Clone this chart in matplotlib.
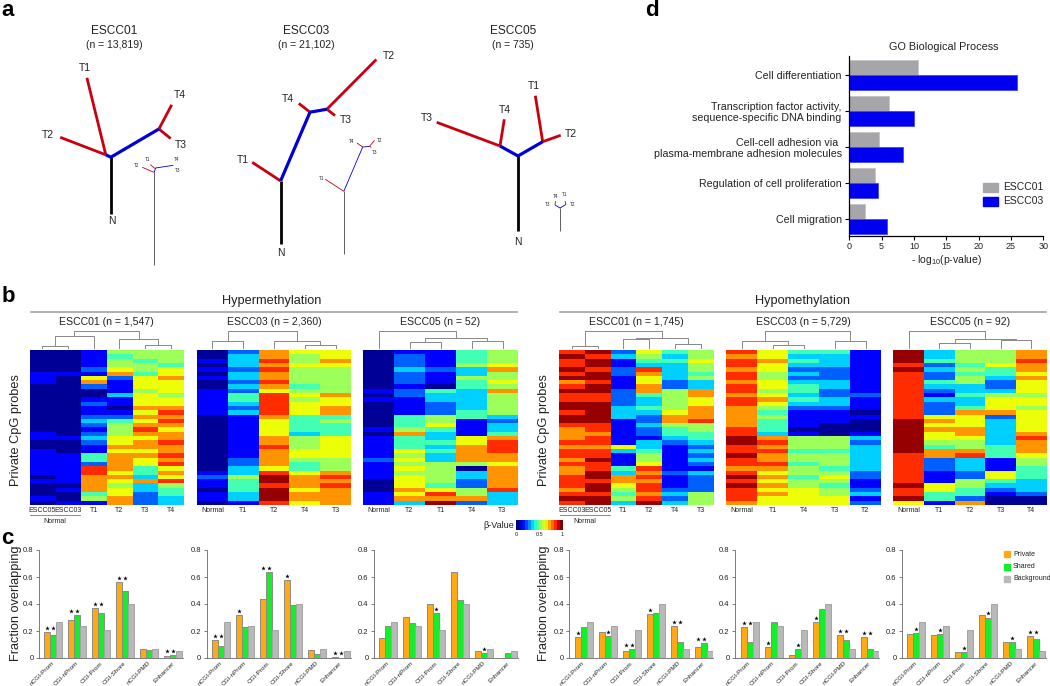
import matplotlib
matplotlib.use('Agg')
import matplotlib.pyplot as plt
import numpy as np

plt.rcParams['font.family'] = ['Liberation Sans', 'DejaVu Sans']
plt.rcParams['mathtext.default'] = 'regular'

RED = '#c8000f'
BLUE = '#0000d2'
TEXT = '#222222'

# panel a: trees, (colour, width, points) in picture coordinates
tree_01 = [('k', 2.0, [(110.9, 213.7), (110.9, 157.2)]),
           (RED, 2.0, [(105.8, 154.8), (86.9, 77.8)]),
           (RED, 2.0, [(105.8, 154.8), (60.2, 137.3)]),
           (RED, 2.0, [(158.9, 129), (171.7, 104.8)]),
           (RED, 2.0, [(158.9, 129), (170.7, 138.6)]),
           (BLUE, 2.3, [(105.8, 154.8), (110.9, 157.2), (158.9, 129)])]
tree_03 = [('k', 2.0, [(280.6, 244), (280.6, 180.9)]),
           (RED, 2.0, [(280.6, 180.9), (252.2, 162.3)]),
           (RED, 2.0, [(310, 112.2), (298.8, 103.4)]),
           (RED, 2.0, [(326.9, 109.2), (335, 115.6)]),
           (RED, 2.0, [(326.9, 109.2), (376.3, 59.5)]),
           (BLUE, 2.3, [(280.6, 180.9), (310, 112.2), (326.9, 109.2)])]
tree_05 = [('k', 2.0, [(518, 230.7), (518, 156)]),
           (RED, 2.0, [(500, 146), (436.7, 122.3)]),
           (RED, 2.0, [(500, 146), (504.3, 119.3)]),
           (RED, 2.0, [(542.7, 141.7), (535.3, 95.7)]),
           (RED, 2.0, [(542.7, 141.7), (560.7, 135.3)]),
           (BLUE, 2.3, [(500, 146), (518, 156), (542.7, 141.7)])]
inset_01 = [('#444444', 0.6, [(154.2, 264.7), (154.2, 172.4)]),
            (RED, 0.6, [(154.2, 172.4), (142.3, 167.3)]),
            (RED, 0.6, [(154.8, 168.4), (150.4, 164.6)]),
            (BLUE, 0.6, [(154.2, 172.4), (155.5, 168), (173.4, 165.3)])]
inset_03 = [('#444444', 0.6, [(343.8, 253.5), (343.8, 191.3)]),
            (RED, 0.6, [(343.8, 191.3), (325.2, 179.2)]),
            (RED, 0.6, [(362.7, 147), (357, 143)]),
            (RED, 0.6, [(369.5, 146.4), (374.6, 140.3)]),
            (RED, 0.6, [(369.5, 146.4), (371.5, 147.4)]),
            (BLUE, 0.6, [(343.8, 191.3), (362.7, 147), (369.5, 146.4)])]
inset_05 = [('#444444', 0.6, [(560, 231), (560, 208)]),
            (RED, 0.6, [(555, 205), (555.5, 201)]),
            (RED, 0.6, [(566, 204.5), (565, 201)]),
            (BLUE, 0.6, [(555, 205), (560, 208), (566, 204.5)])]
tree_labels = [('T1', 84.9, 67.6), ('T2', 48.3, 135.2), ('T4', 180.2, 95.3), ('T3', 180.9, 144.7), ('N', 111.6, 221.4),
               ('T2', 388.8, 56.1), ('T4', 287.7, 99), ('T3', 346.2, 120.4), ('T1', 242.4, 159.6), ('N', 280.6, 252.9),
               ('T1', 533.7, 86), ('T4', 505, 110), ('T3', 427, 118), ('T2', 571, 134), ('N', 518, 242)]
inset_labels = [('T2', 136.2, 165.7), ('T1', 147.4, 159.6), ('T4', 176.5, 159.2), ('T3', 177.8, 170),
                ('T4', 351.2, 141.3), ('T2', 379.6, 140), ('T3', 374.2, 152), ('T1', 321.5, 178.5),
                ('T3', 547.5, 204), ('T4', 555.5, 196), ('T1', 564.5, 195), ('T2', 573, 205)]
tree_titles = [('ESCC01', '(n = 13,819)', 113.9), ('ESCC03', '(n = 21,102)', 306.6), ('ESCC05', '(n = 735)', 513)]

# panel b: beta level per row and column, looked up in beta_levels
beta_levels = [.02, .11, .22, .33, .43, .54, .64, .75, .86, .98]
hyper_01 = [[0,0,0,0,0,1,1,1,0,0,0,0,0,0,0,0,0,0,0,1,1,0,0,1,1,1,1,1,1,0,1,0,0,0,1,0],
            [0,0,0,0,0,1,0,0,0,0,0,0,0,0,0,0,0,0,0,0,1,0,0,0,1,1,1,1,1,1,1,0,1,0,0,1],
            [1,1,1,1,2,1,6,7,2,0,0,1,2,1,1,2,3,2,1,2,3,2,1,1,4,4,2,8,8,7,7,7,7,4,5,1],
            [5,4,5,5,6,7,2,1,1,1,3,1,1,0,1,2,4,5,5,5,6,6,7,6,7,7,7,7,6,7,6,5,6,6,7,7],
            [5,5,4,5,5,4,6,6,6,5,6,6,6,7,6,7,6,7,8,7,6,7,7,6,7,6,6,4,4,3,7,3,3,2,2,2],
            [5,5,5,4,6,6,7,6,6,6,5,6,6,7,8,7,8,7,6,7,7,8,7,7,8,7,8,6,7,6,8,5,4,4,3,3]]
hyper_03 = [[0,0,1,0,1,0,1,0,0,1,1,1,1,1,1,0,0,0,0,0,0,0,0,0,0,0,0,0,1,2,1,1,0,1,1,0],
            [2,3,3,3,2,3,3,2,3,2,4,4,3,2,3,1,1,1,1,1,1,1,1,1,1,2,2,3,3,5,4,4,4,3,3,1],
            [7,7,8,7,8,7,7,8,7,6,8,8,8,8,8,7,6,6,6,6,7,7,8,7,7,7,7,6,8,9,9,8,9,9,9,8],
            [6,5,5,6,5,5,5,5,4,5,6,5,6,6,6,4,4,4,4,3,5,5,5,6,6,5,4,4,6,7,7,7,6,7,7,6],
            [6,6,7,6,5,5,5,5,5,5,7,6,6,7,7,4,5,4,4,4,6,6,6,6,6,5,5,5,7,8,7,8,7,7,7,7]]
hyper_05 = [[0,0,0,0,0,0,0,0,0,1,0,1,0,0,0,0,0,0,1,0,1,1,1,1,1,2,1,1,1,1,0,0,0,1,1,1],
            [1,2,2,2,3,2,2,2,1,2,2,1,1,1,1,4,4,4,5,7,4,4,4,6,5,6,5,6,5,6,6,6,7,6,7,3],
            [1,1,1,1,2,1,1,1,0,4,3,3,2,2,2,5,5,6,4,3,3,4,3,4,3,3,5,5,5,5,5,4,6,8,7,9],
            [4,4,4,5,3,3,5,4,4,3,3,3,3,3,4,4,1,1,1,1,6,6,7,7,7,7,5,0,3,3,2,2,5,5,7,2],
            [5,5,5,6,7,5,5,6,5,7,5,5,5,5,5,3,2,3,3,4,7,8,8,8,7,7,6,7,7,7,7,7,8,3,3,3]]
hypo_01 = [[8,9,8,8,9,8,9,7,8,9,8,8,9,9,8,9,9,8,7,7,7,8,7,8,8,7,8,7,7,8,8,8,7,8,9,8],
           [9,8,9,9,8,9,9,8,9,9,8,8,9,9,9,9,9,8,8,7,8,8,7,8,8,9,8,8,9,9,8,9,9,8,9,9],
           [2,3,1,1,2,2,1,1,1,2,2,2,2,3,3,3,1,1,1,1,1,1,6,3,1,1,1,4,3,7,7,6,5,4,5,3],
           [6,5,4,3,8,7,6,6,7,7,4,3,3,4,3,2,2,3,2,2,1,3,3,4,5,5,6,8,7,8,7,8,8,7,8,9],
           [4,3,4,3,3,3,3,2,2,5,5,5,5,5,6,7,7,5,4,4,3,2,1,1,1,1,1,1,2,1,1,1,2,3,2,3],
           [5,5,6,5,5,4,5,3,3,7,7,6,6,7,7,7,8,5,5,4,4,3,2,3,2,3,2,1,3,2,2,2,2,5,5,5]]
hypo_03 = [[8,7,8,8,7,8,8,7,8,8,7,8,8,7,7,7,7,7,8,8,9,9,8,8,9,8,8,7,8,9,8,9,8,8,8,7],
           [6,6,7,6,6,5,5,6,6,5,6,7,6,5,4,5,4,4,4,3,7,8,7,8,7,7,8,7,6,7,6,7,6,7,6,6],
           [4,3,4,3,2,3,2,3,4,4,3,4,3,2,1,1,1,1,0,1,5,5,5,4,5,5,4,5,5,4,5,5,6,6,6,6],
           [4,3,3,3,2,2,2,3,3,2,2,3,3,2,1,1,1,0,0,0,5,5,5,4,5,5,5,4,5,6,5,4,5,5,6,6],
           [1,1,1,1,1,1,1,1,1,1,2,1,1,1,0,1,0,0,0,1,3,2,3,3,3,3,3,3,2,2,1,1,2,3,1,2]]
hypo_05 = [[9,9,9,8,9,8,8,8,8,8,8,8,8,8,8,8,9,9,9,9,9,9,9,9,8,8,8,8,8,8,8,9,8,8,9,6],
           [3,3,4,2,3,2,2,4,3,2,1,3,2,2,2,6,7,6,7,6,6,5,4,7,7,2,2,2,1,1,1,6,6,4,4,1],
           [5,5,5,4,5,4,5,5,3,3,4,3,3,4,7,6,6,6,7,7,6,5,5,7,8,3,3,3,2,2,5,5,4,4,2,7],
           [5,5,5,6,4,4,3,2,2,3,5,6,6,6,7,2,3,3,3,3,3,3,4,4,4,1,1,1,6,6,4,3,2,1,0,0],
           [7,7,8,7,7,6,7,6,6,6,5,6,6,5,6,6,6,6,6,7,8,7,7,7,6,5,5,4,4,4,3,3,3,2,0,0]]

heat_cols = [['ESCC05', 'ESCC03', 'T1', 'T2', 'T3', 'T4'], ['Normal', 'T1', 'T2', 'T4', 'T3'],
             ['Normal', 'T2', 'T1', 'T4', 'T3'], ['ESCC03', 'ESCC05', 'T1', 'T2', 'T4', 'T3'],
             ['Normal', 'T1', 'T4', 'T3', 'T2'], ['Normal', 'T1', 'T2', 'T3', 'T4']]
heat_titles = ['ESCC01 (n = 1,547)', 'ESCC03 (n = 2,360)', 'ESCC05 (n = 52)',
               'ESCC01 (n = 1,745)', 'ESCC03 (n = 5,729)', 'ESCC05 (n = 92)']
# dendrogram merges: (left, right, height), ids above the leaves are earlier merges
dendro_merges = [[(0, 1, 1.5), (6, 2, 11.3), (4, 5, 2.5), (3, 8, 9), (7, 9, 16.3)],
                 [(0, 1, 6.3), (3, 4, 2.3), (2, 6, 6.3), (5, 7, 16.3)],
                 [(1, 2, 5.3), (3, 4, 7), (5, 6, 10), (0, 7, 16.3)],
                 [(0, 1, 1.5), (2, 3, 9), (4, 5, 4), (7, 8, 10), (6, 9, 16.3)],
                 [(1, 2, 2.3), (0, 5, 6.3), (3, 4, 7), (6, 7, 16.3)],
                 [(1, 2, 5), (3, 4, 7.6), (5, 6, 9), (0, 7, 16.3)]]

# panel c
regions = ['nCGI-Prom', 'CGI-nProm', 'CGI-Prom', 'CGI-Shore', 'nCGI-PMD', 'Enhancer']
background = [.265, .235, .205, .40, .065, .05]
private = [[.195, .285, .37, .565, .065, .012], [.13, .315, .44, .58, .058, .005], [.15, .305, .40, .635, .055, 0],
           [.155, .195, .055, .325, .235, .085], [.23, .08, .025, .265, .17, .155], [.18, .17, .045, .315, .115, .16]]
shared = [[.17, .315, .335, .495, .06, .022], [.09, .23, .64, .39, .03, 0], [.235, .26, .335, .43, .04, .035],
          [.23, .16, .068, .335, .12, .11], [.12, .27, .068, .365, .135, .07], [.185, .18, .045, .30, .12, .14]]
# significance per region: p = private, s = shared
stars = [['ps', 'ps', 'ps', 'ps', '', 'ps'], ['ps', 'p', 'ps', 'p', '', 'ps'], ['', '', 's', '', 's', ''],
         ['p', 's', 'ps', 'p', 'ps', 'ps'], ['ps', 'p', 's', 'p', 'ps', 'ps'], ['s', 's', 's', 's', 's', 'ps']]

# panel d
go_terms = ['Cell differentiation', 'Transcription factor activity,\nsequence-specific DNA binding',
            'Cell-cell adhesion via \nplasma-membrane adhesion molecules',
            'Regulation of cell proliferation', 'Cell migration']
go_01 = [10.6, 6.1, 4.6, 3.9, 2.4]
go_03 = [26, 10, 8.3, 4.5, 5.8]

W, H = 1050, 686
fig = plt.figure(figsize=(W / 100, H / 100), dpi=100)


def px_axes(x0, y0, x1, y1):
    return fig.add_axes([x0 / W, 1 - y1 / H, (x1 - x0) / W, (y1 - y0) / H])


page = px_axes(0, 0, W, H)
page.set_xlim(0, W)
page.set_ylim(H, 0)
page.axis('off')

for letter, x, y in [('a', 8, 11), ('b', 8, 296), ('c', 7, 539), ('d', 652, 11)]:
    page.text(x, y, letter, fontsize=16, fontweight='bold', ha='center', va='center', color='k')

# a
for branches in [tree_01, tree_03, tree_05, inset_01, inset_03, inset_05]:
    for color, lw, pts in branches:
        xs, ys = zip(*pts)
        page.plot(xs, ys, color=color, lw=lw, solid_capstyle='butt', solid_joinstyle='miter')
for name, x, y in tree_labels:
    page.text(x, y, name, fontsize=7.5, ha='center', va='center', color=TEXT)
for name, x, y in inset_labels:
    page.text(x, y, name, fontsize=3.3, ha='center', va='center', color=TEXT)
for name, n, x in tree_titles:
    page.text(x, 31, name, fontsize=8.6, ha='center', va='center', color=TEXT)
    page.text(x, 44.6, n, fontsize=7.5, ha='center', va='center', color=TEXT)

# b
heat_data = [hyper_01, hyper_03, hyper_05, hypo_01, hypo_03, hypo_05]
heat_x = [(29.5, 183.5), (197, 351), (363, 518), (559.2, 713.4), (726.2, 881), (893.2, 1046.7)]
for data, cols, title, merges, (x0, x1) in zip(heat_data, heat_cols, heat_titles, dendro_merges, heat_x):
    ax = px_axes(x0, 350, x1, 505)
    ax.imshow(np.array(beta_levels)[np.array(data).T], aspect='auto', cmap='jet', vmin=0, vmax=1, interpolation='nearest')
    ax.set_xticks([])
    ax.set_yticks([])
    for s in ax.spines.values():
        s.set_visible(False)
    step = (x1 - x0) / len(cols)
    for i, c in enumerate(cols):
        page.text(x0 + step * (i + .5), 511, c, fontsize=5, ha='center', va='center', color=TEXT)
    page.text((x0 + x1) / 2, 322, title, fontsize=7.6, ha='center', va='center', color=TEXT)
    # dendrogram
    nodes = [(x0 + step * (i + .5), 0) for i in range(len(cols))]
    base = 347.5
    for a, b, h in merges:
        xa, ha = nodes[a]
        xb, hb = nodes[b]
        page.plot([xa, xa, xb, xb], [base - ha, base - h, base - h, base - hb], color='#888888', lw=.7)
        nodes.append(((xa + xb) / 2, h))

for label, xc, x0, x1 in [('Hypermethylation', 272, 30.7, 516.7), ('Hypomethylation', 803, 560, 1046)]:
    page.text(xc, 301, label, fontsize=9.2, ha='center', va='center', color=TEXT)
    page.plot([x0, x1], [312, 312], color='#999999', lw=1.1)
for x0, x1 in [(30, 80), (560, 610)]:
    page.plot([x0, x1], [515, 515], color='#777777', lw=.6)
    page.text((x0 + x1) / 2, 521.5, 'Normal', fontsize=5, ha='center', va='center', color=TEXT)
for x in [16, 544]:
    page.text(x, 430, 'Private CpG probes', fontsize=9.2, rotation=90, ha='center', va='center', color=TEXT)

cax = px_axes(516, 520, 563, 530)
cmap16 = matplotlib.colormaps['jet'].resampled(16)
cax.imshow(np.linspace(0, 1, 16)[None, :], aspect='auto', cmap=cmap16, interpolation='nearest')
cax.axis('off')
page.text(499, 525, 'β-Value', fontsize=6.5, ha='center', va='center', color=TEXT)
for tick, x in [('0', 516), ('0.5', 539.6), ('1', 562.6)]:
    page.text(x, 534.5, tick, fontsize=4, ha='center', va='center', color=TEXT)

# c
axis_x = [39, 206.7, 374, 569.4, 735.3, 902]
for k in range(6):
    ax = px_axes(axis_x[k], 550, axis_x[k] + 144, 658)
    x = np.arange(6)
    for off, vals, color, edge in [(-.25, private[k], '#ffaa14', '#8c8c84'), (0, shared[k], '#14ee2c', '#8c8c84'),
                                   (.25, background, '#b9b9b9', '#a4a4a4')]:
        ax.bar(x + off, vals, .25, color=color, edgecolor=edge, lw=.7)
    for g, marks in enumerate(stars[k]):
        top = max(private[k][g] if 'p' in marks else 0, shared[k][g] if 's' in marks else 0)
        for m in marks:
            off = -.25 if m == 'p' else 0
            ax.plot(g + off, top + .03, marker='*', ms=3.4, color='k', mew=0, clip_on=False)
    ax.set_xlim(-.6, 5.4)
    ax.set_ylim(0, .8)
    ax.set_yticks([0, .2, .4, .6, .8])
    ax.set_yticklabels(['0', '0.2', '0.4', '0.6', '0.8'], fontsize=5.5, color=TEXT)
    ax.set_xticks(x)
    ax.set_xticklabels(regions, fontsize=4.6, rotation=45, ha='right', va='center', rotation_mode='anchor', color=TEXT)
    ax.tick_params(axis='y', length=2, width=.6, color='#666666', pad=2)
    ax.tick_params(axis='x', length=0, pad=3)
    ax.patch.set_alpha(0)
    for s in ['top', 'right']:
        ax.spines[s].set_visible(False)
    for s in ['left', 'bottom']:
        ax.spines[s].set_linewidth(.6)
        ax.spines[s].set_color('#666666')
for x in [16, 544]:
    page.text(x, 603, 'Fraction overlapping', fontsize=9.2, rotation=90, ha='center', va='center', color=TEXT)

# d
ax = px_axes(849.3, 56, 1043.3, 236)
ax.patch.set_alpha(0)
y = np.arange(5)
ax.barh(y - .21, go_01, .4, color='#a5a5aa', edgecolor='#c4c4c8', lw=.6)
ax.barh(y + .21, go_03, .4, color='#0000f0', edgecolor='#4444ff', lw=.6)
ax.set_xlim(0, 30)
ax.set_ylim(4.47, -.53)
ax.set_xticks(range(0, 31, 5))
ax.tick_params(axis='x', labelsize=6.5, length=3, width=.8, pad=1.5, labelcolor=TEXT)
ax.set_yticks(y)
ax.set_yticklabels(go_terms, fontsize=7.7, color=TEXT, linespacing=1.1)
ax.tick_params(axis='y', length=3, width=.8, pad=2.5)
ax.set_xlabel('- log$_{10}$(p-value)', fontsize=7.5, labelpad=1, color=TEXT)
ax.set_title('GO Biological Process', fontsize=7.8, color=TEXT, pad=4, x=.486)
for s in ['top', 'right']:
    ax.spines[s].set_visible(False)
for s in ['left', 'bottom']:
    ax.spines[s].set_linewidth(.9)

# legends go on a last layer so no axes covers them
top_layer = px_axes(0, 0, W, H)
top_layer.set_xlim(0, W)
top_layer.set_ylim(H, 0)
top_layer.axis('off')
for name, color, y0 in [('ESCC01', '#a5a5aa', 182.7), ('ESCC03', '#0000f0', 197)]:
    top_layer.add_patch(plt.Rectangle((983, y0), 15, 9, color=color))
    top_layer.text(1003, y0 + 4.5, name, fontsize=7.5, ha='left', va='center', color=TEXT)
for name, color, y0 in [('Private', '#ffaa14', 554), ('Shared', '#14ee2c', 567), ('Background', '#b9b9b9', 578.5)]:
    top_layer.add_patch(plt.Rectangle((1003.5, y0 - 3), 6, 6, color=color))
    top_layer.text(1013, y0, name, fontsize=5, ha='left', va='center', color=TEXT)

fig.savefig('out.png', dpi=100)
